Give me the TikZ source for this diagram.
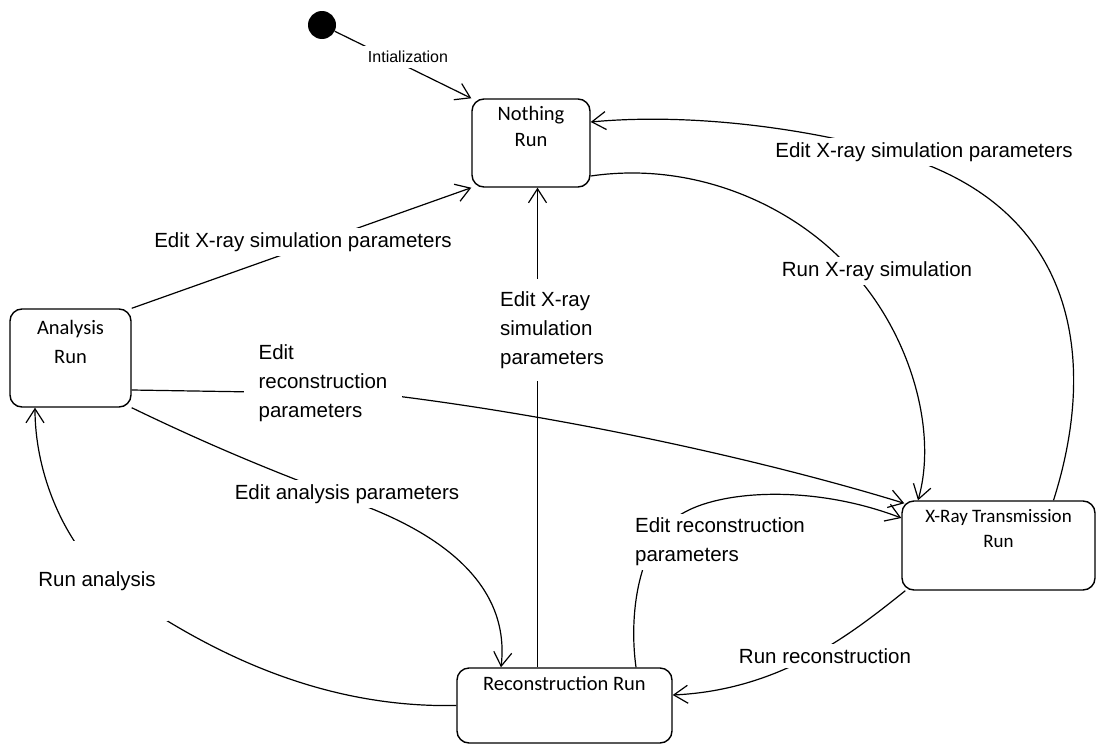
\documentclass[tikz,border=0pt]{standalone}
\usepackage{fontspec}
\setmainfont{Liberation Sans}
\newfontfamily\boxfont{Carlito}
\usetikzlibrary{arrows.meta}

% state box contents: width, height, top padding, text (top aligned, centred)
\newcommand\stcontent[4]{\begin{minipage}[c][#2][t]{#1}\centering\vspace*{#3}#4\end{minipage}}

\tikzset{
  state/.style={draw, line width=1.4pt, rounded corners=12pt, inner sep=0pt, fill=white,
    font=\boxfont\fontsize{20.5}{26}\selectfont},
  trans/.style={line width=1.2pt, -{Straight Barb[length=14pt,width=18pt]}},
  lbl/.style={fill=white, inner sep=4pt, text=black, font=\fontsize{20.5}{29}\selectfont},
  initial/.style={circle, fill=black, minimum size=28pt, inner sep=0pt},
}

\begin{document}
\begin{tikzpicture}[x=1pt,y=-1pt]
\useasboundingbox (0,0) rectangle (1097,744);

% states
\node[initial] (init) at (322,25) {};
\node[state] (nr) at (531,143) {\stcontent{118pt}{88pt}{7pt}{Nothing\\Run}};
\node[state, font=\boxfont\fontsize{20.5}{29}\selectfont] (ar) at (70.5,358) {\stcontent{121pt}{98pt}{11pt}{Analysis\\Run}};
\node[state, font=\boxfont\fontsize{19}{25}\selectfont] (xr) at (998.5,545.5) {\stcontent{193pt}{89pt}{8pt}{X-Ray Transmission\\Run}};
\node[state] (rr) at (564.5,705.5) {\stcontent{215pt}{75pt}{8pt}{Reconstruction Run}};

% transitions
\draw[trans] (init) -- (nr.north west);
\draw[trans] (ar.north east) -- (nr.south west);
\draw[trans] ([xshift=-27pt]rr.north) -- ([xshift=-27pt]rr.north |- nr.south);
\draw[trans] ([yshift=-33pt]nr.east) .. controls (700,160) and (800,210) .. (853,272)
  .. controls (910,335) and (938,430) .. ([xshift=-80.5pt]xr.north);
\draw[trans] ([xshift=55pt]xr.north) .. controls (1095,370) and (1080,230) .. (935,168)
  .. controls (870,140) and (720,110) .. ([yshift=21pt]nr.east);
\draw[trans] ([yshift=-32pt]ar.east) -- (380,394)
  .. controls (580,418) and (780,465) .. ([xshift=3pt,yshift=-3pt]xr.north west);
\draw[trans] (ar.south east) .. controls (250,465) and (330,492) .. (370,508)
  .. controls (450,540) and (510,590) .. ([xshift=-63.5pt]rr.north);
\draw[trans] (rr.west) .. controls (330,708) and (220,660) .. (120,590)
  .. controls (70,555) and (35,480) .. ([xshift=-35.5pt]ar.south);
\draw[trans] ([xshift=71.5pt]rr.north) .. controls (628,610) and (640,535) .. (685,512)
  .. controls (725,490) and (815,485) .. ([yshift=27.5pt]xr.west);
\draw[trans] ([xshift=4pt]xr.south west) .. controls (850,635) and (780,690) .. ([yshift=10.5pt]rr.east);

% transition labels
\node[lbl, inner sep=5pt, font=\fontsize{16}{20}\selectfont] (linit) at (408,57) {Intialization};
\node[lbl] (la) at (303,242) {Edit X-ray simulation parameters};
\node[lbl, align=left, inner ysep=12pt] (lb) at (552,330) {Edit X-ray\\simulation\\parameters};
\node[lbl] (lc) at (877,271) {Run X-ray simulation};
\node[lbl] (ld) at (924,152) {Edit X-ray simulation parameters};
\node[lbl, align=left, inner xsep=15pt] (le) at (323,383) {Edit\\reconstruction\\parameters};
\node[lbl] (lf) at (347,494) {Edit analysis parameters};
\node[lbl, inner xsep=12pt, inner ysep=30pt] (lg) at (97,581) {Run analysis};
\node[lbl, align=left] (lh) at (720,542) {Edit reconstruction\\parameters};
\node[lbl] (li) at (825,656) {Run reconstruction};
\end{tikzpicture}
\end{document}
